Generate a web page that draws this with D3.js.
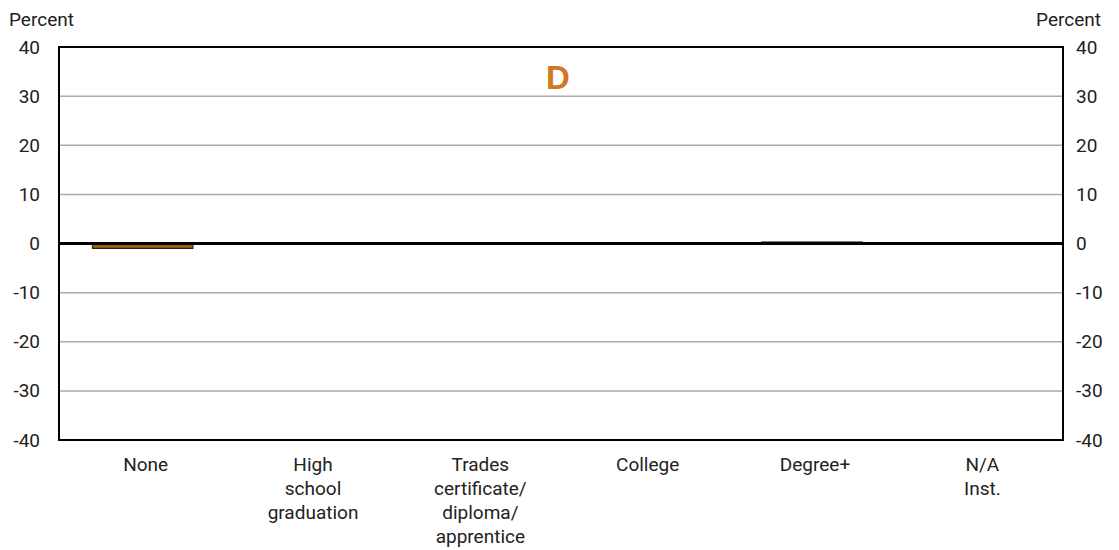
<!DOCTYPE html>
<html><head><meta charset="utf-8">
<script src="https://cdn.jsdelivr.net/npm/d3@7/dist/d3.min.js"></script>
<style>
body{margin:0;background:#fff;}
text{font-family:"Roboto",sans-serif;fill:#222;}
</style></head>
<body><svg id="c" width="1119" height="550"></svg>
<script>
const categories = [["None"],["High","school","graduation"],["Trades","certificate/","diploma/","apprentice"],["College"],["Degree+"],["N/A","Inst."]];
const values = [-1.0, 0, 0, 0, 0.3, 0];
const yTicks = [-40,-30,-20,-10,0,10,20,30,40];
const panelTitle = "D";
const axisTitle = "Percent";

const svg = d3.select("#c");
const L=59, R=1063, T=47, B=440;
const x = d3.scaleBand().domain(d3.range(categories.length)).range([L,R]).paddingInner(0.4).paddingOuter(0.2);
const y = d3.scaleLinear().domain([-40,40]).range([B,T]);

// gridlines
svg.append("g").selectAll("line").data(yTicks.filter(d=>d!==0 && Math.abs(d)!==40)).join("line")
  .attr("x1",L).attr("x2",R).attr("y1",d=>y(d)).attr("y2",d=>y(d))
  .attr("stroke","#aaa").attr("stroke-width",1.5);

// bars
svg.append("g").selectAll("rect").data(values).join("rect")
  .attr("x",(d,i)=>x(i)).attr("width",x.bandwidth())
  .attr("y",d=>y(Math.max(0,d))).attr("height",d=>Math.abs(y(d)-y(0)))
  .attr("fill","#A0620A").attr("stroke","#222").attr("stroke-width",1.2);

// zero line
svg.append("line").attr("x1",L).attr("x2",R).attr("y1",y(0)).attr("y2",y(0))
  .attr("stroke","#000").attr("stroke-width",3);

// frame
svg.append("rect").attr("x",L).attr("y",T).attr("width",R-L).attr("height",B-T)
  .attr("fill","none").attr("stroke","#000").attr("stroke-width",2);

// axes
const fs = "19px";
const fmt = d => String(d);
const yl = d3.axisLeft(y).tickValues(yTicks).tickFormat(fmt).tickSize(0).tickPadding(19);
const gl = svg.append("g").attr("transform",`translate(${L},0)`).call(yl);
gl.select(".domain").remove();
gl.selectAll("text").style("font-size",fs).attr("fill","#222");
const yr = d3.axisRight(y).tickValues(yTicks).tickFormat(fmt).tickSize(0).tickPadding(13);
const gr = svg.append("g").attr("transform",`translate(${R},0)`).call(yr);
gr.select(".domain").remove();
gr.selectAll("text").style("font-size",fs).attr("fill","#222");

// category labels
svg.append("g").selectAll("text").data(categories).join("text")
  .attr("text-anchor","middle").style("font-size",fs)
  .attr("transform",(d,i)=>`translate(${x(i)+x.bandwidth()/2+3},${B+31})`)
  .selectAll("tspan").data(d=>d).join("tspan")
  .attr("x",0).attr("dy",(d,j)=>j===0?0:24).text(d=>d);

// axis titles
svg.append("text").attr("x",9).attr("y",26).style("font-size",fs).text(axisTitle);
svg.append("text").attr("x",1101).attr("y",26).attr("text-anchor","end").style("font-size",fs).text(axisTitle);

// panel title
svg.append("text").attr("x",(L+R)/2-3).attr("y",89).attr("text-anchor","middle")
  .style("font-family","'Liberation Sans',Arial,sans-serif").style("font-weight","bold").style("font-size","33px")
  .style("fill","#D2761F").text(panelTitle);
</script></body></html>
